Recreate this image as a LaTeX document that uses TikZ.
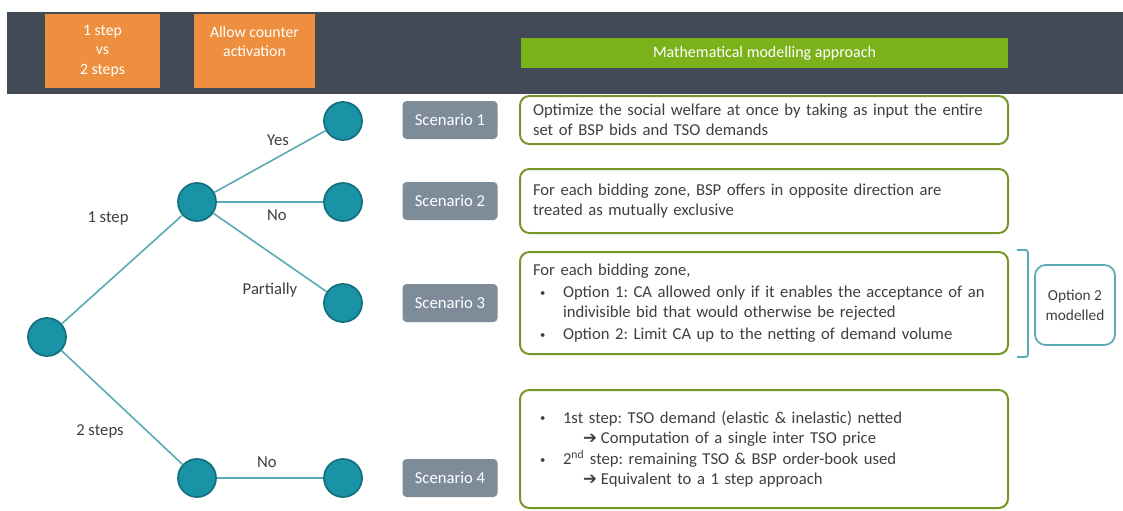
\documentclass[tikz,border=0pt]{standalone}
\usepackage{fontspec}
\setmainfont{Carlito}
\newfontfamily\arrowfont{DejaVu Sans}
\definecolor{band}{HTML}{414A55}
\definecolor{hdrorange}{HTML}{EE8F3F}
\definecolor{hdrgreen}{HTML}{7BB21B}
\definecolor{boxgreen}{HTML}{77962A}
\definecolor{teal}{HTML}{1B93A6}
\definecolor{tealdark}{HTML}{12707F}
\definecolor{tealline}{HTML}{5AAAB4}
\definecolor{scgray}{HTML}{7E8C9A}
\definecolor{txt}{HTML}{3F3F3F}
\newcommand\bul{\hspace*{5.25pt}\makebox[17.25pt][l]{\raisebox{1pt}{\fontsize{8}{8}\selectfont\textbullet}}}
\newcommand\arr{\hspace*{37.5pt}{\arrowfont\fontsize{12.5}{15}\selectfont ➔}\hspace{3pt}}
\begin{document}
\frenchspacing
\begin{tikzpicture}[x=0.75pt,y=-0.75pt,
  hdrbox/.style={fill=hdrorange, text=white, align=center, font=\fontsize{11.8}{14.5}\selectfont, minimum height=55.5pt, inner sep=0pt},
  greenbar/.style={fill=hdrgreen, text=white, font=\fontsize{12}{14}\selectfont, minimum width=365.25pt, minimum height=22.5pt, inner sep=0pt},
  dot/.style={circle, fill=teal, draw=tealdark, line width=1.3pt, minimum size=28.5pt, inner sep=0pt},
  conn/.style={draw=tealline, line width=1.2pt},
  lbl/.style={text=txt, font=\fontsize{12.5}{14}\selectfont, inner sep=0pt},
  scbox/.style={fill=scgray, text=white, rounded corners=3pt, minimum width=71.25pt, minimum height=28.5pt, font=\fontsize{12.5}{14}\selectfont, inner sep=0pt},
  txtbox/.style={draw=boxgreen, line width=1.5pt, rounded corners=7pt, text=txt, align=left, font=\fontsize{12.5}{15}\selectfont, text width=346.5pt, inner xsep=9.75pt, minimum width=366pt},
  optbox/.style={draw=tealline, line width=1.3pt, rounded corners=8pt, text=txt, align=center, font=\fontsize{11.5}{15}\selectfont, minimum width=60pt, minimum height=60pt, inner sep=0pt}
]
\useasboundingbox (0,0) rectangle (1123,510);
\fill[white] (0,0) rectangle (1123,510);
\fill[band] (7,12) rectangle (1123,94);

\node[hdrbox, minimum width=86.25pt] (h1) at (102.5,51) {1 step\\vs\\2 steps};
\node[hdrbox, minimum width=90.75pt] (h2) at (254.5,51) {Allow counter\\activation\\~};
\node[greenbar] (h3) at (764.5,53) {Mathematical modelling approach};

% tree nodes
\node[dot] (r) at (47,337) {};
\node[dot] (a) at (197,202) {};
\node[dot] (b) at (197,478) {};
\node[dot] (l1) at (343,121) {};
\node[dot] (l2) at (343,202) {};
\node[dot] (l3) at (343,303) {};
\node[dot] (l4) at (343,478) {};

\draw[conn] (r) -- (a);
\draw[conn] (r) -- (b);
\draw[conn] (a) -- (l1);
\draw[conn] (a) -- (l2);
\draw[conn] (a) -- (l3);
\draw[conn] (b) -- (l4);

\node[lbl] (e1) at (108,218) {1 step};
\node[lbl] (e2) at (100,431) {2 steps};
\node[lbl] (e3) at (278,140) {Yes};
\node[lbl] (e4) at (277,215) {No};
\node[lbl] (e5) at (270,290) {Partially};
\node[lbl] (e6) at (267,462) {No};

\node[scbox] (s1) at (450,120) {Scenario 1};
\node[scbox] (s2) at (450,201) {Scenario 2};
\node[scbox] (s3) at (450,303) {Scenario 3};
\node[scbox] (s4) at (450,478) {Scenario 4};

\node[txtbox, minimum height=36pt] (t1) at (764,120) {Optimize the social welfare at once by taking as input the entire\\set of BSP bids and TSO demands};
\node[txtbox, minimum height=48pt] (t2) at (764,201) {For each bidding zone, BSP offers in opposite direction are\\treated as mutually exclusive};
\node[txtbox, minimum height=76.5pt] (t3) at (764,303) {For each bidding zone,\\[1.5pt]
\bul Option 1: CA allowed only if it enables the acceptance of an\\
\hspace*{22.5pt}indivisible bid that would otherwise be rejected\\[1.5pt]
\bul Option 2: Limit CA up to the netting of demand volume};
\node[txtbox, minimum height=88.5pt] (t4) at (764,449) {\bul 1st step: TSO demand (elastic \& inelastic) netted\\
\arr Computation of a single inter TSO price\\[1pt]
\bul 2\textsuperscript{nd} step: remaining TSO \& BSP order-book used\\
\arr Equivalent to a 1 step approach};

\node[optbox] (o) at (1075,305) {Option 2\\modelled};
\coordinate (bt) at (1017,250);
\coordinate (bb) at (1017,357);
\draw[tealline, line width=1.3pt, rounded corners=2pt] (bt) -- ++(11,0) -- ++(0,107) -- (bb);
\end{tikzpicture}
\end{document}
